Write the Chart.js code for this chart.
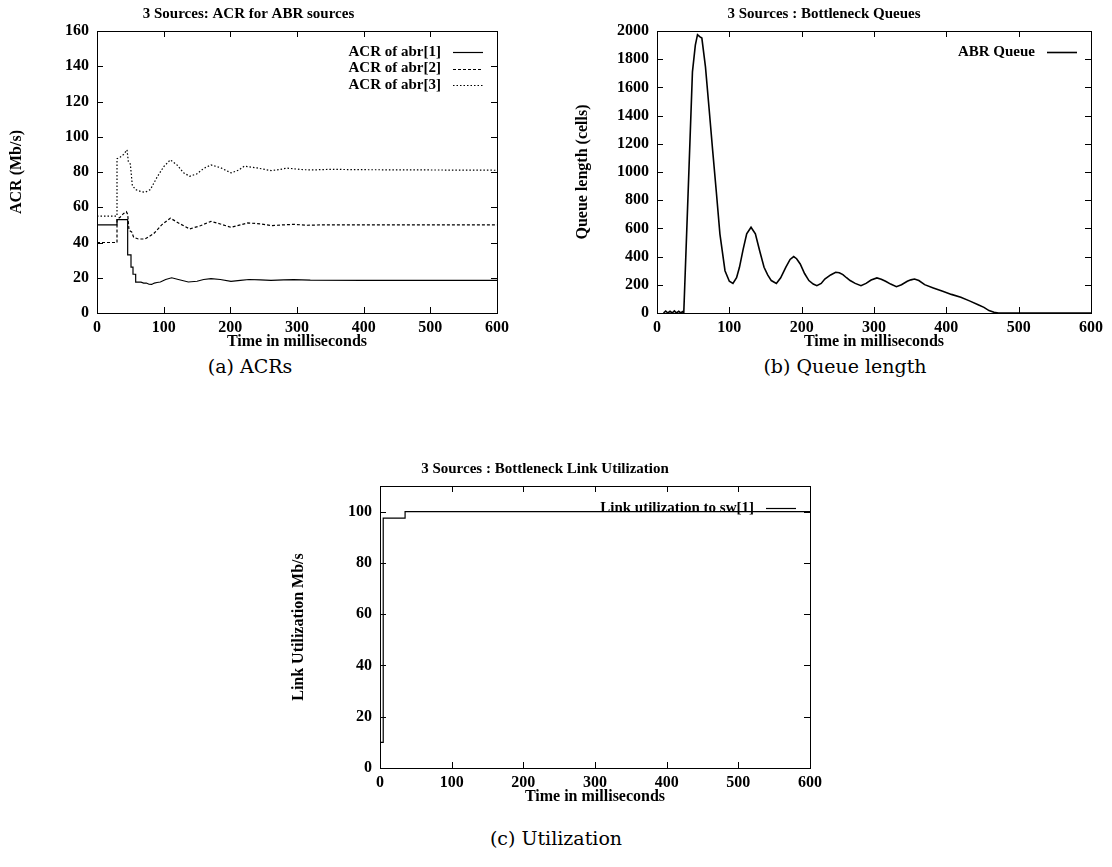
<!DOCTYPE html>
<html><head><meta charset="utf-8">
<script src="https://cdn.jsdelivr.net/npm/chart.js@4.4.1/dist/chart.umd.min.js"></script>
<style>
body{margin:0;background:#fff;width:1112px;height:867px;position:relative;overflow:hidden;}
.box{position:absolute;}
.cap{position:absolute;font-family:"DejaVu Serif",serif;font-size:19px;color:#000;white-space:nowrap;transform:translate(-50%,-50%);}
</style></head><body>
<div class="box" style="left:0px;top:0px;"><canvas id="ca" width="540" height="352"></canvas></div>
<div class="box" style="left:557px;top:0px;"><canvas id="cb" width="555" height="352"></canvas></div>
<div class="box" style="left:280px;top:455px;"><canvas id="cc" width="560" height="352"></canvas></div>
<div class="cap" style="left:250px;top:366px;">(a) ACRs</div>
<div class="cap" style="left:845px;top:366px;">(b) Queue length</div>
<div class="cap" style="left:556px;top:838px;">(c) Utilization</div>
<script>
// ---------- data ----------
const timeTicks = [0, 100, 200, 300, 400, 500, 600];
const acrTicks = [0, 20, 40, 60, 80, 100, 120, 140, 160];
const queueTicks = [0, 200, 400, 600, 800, 1000, 1200, 1400, 1600, 1800, 2000];
const utilTicks = [0, 20, 40, 60, 80, 100];

const acr1Time = [0, 30, 30, 46, 46, 51, 51, 54, 54, 58, 58, 66, 70, 74, 78, 82, 86, 90, 95, 103, 112, 122, 137, 150, 160, 171, 185, 201, 215, 228, 245, 261, 280, 295, 320, 400, 600];
const acr1 = [50, 50, 53, 53, 33, 33, 26, 26, 22, 22, 17.5, 17.5, 17, 17, 16.3, 16.2, 17, 17.3, 17.6, 19, 20, 19, 17.6, 18, 19, 19.5, 19, 18, 18.5, 19, 18.8, 18.5, 18.8, 18.9, 18.6, 18.5, 18.5];

const acr2Time = [0, 30, 30, 35, 40, 44, 46, 48, 52, 55, 62, 72, 85, 97, 110, 125, 139, 155, 171, 185, 201, 215, 226, 245, 261, 280, 295, 315, 340, 600];
const acr2 = [40, 40, 53, 54.5, 56.5, 57.5, 56, 47, 46, 43, 42, 42, 45, 50, 53.8, 50.5, 47.7, 49.5, 52, 50.5, 48.6, 50, 51.1, 50.6, 49.6, 50, 50.3, 49.8, 50, 50];

const acr3Time = [0, 30, 30, 35, 40, 45, 47, 50, 53, 58, 65, 72, 80, 90, 100, 110, 120, 130, 139, 150, 160, 171, 185, 201, 212, 221, 240, 261, 275, 285, 310, 325, 350, 400, 600];
const acr3 = [55, 55, 87.5, 88.5, 90, 92.6, 86, 84.5, 72.3, 70, 69, 68.5, 70, 77, 83, 86.9, 84, 79.5, 77.6, 79, 82, 84, 82.5, 79.5, 81, 83.3, 82.3, 80.8, 81.5, 82.2, 81.3, 81.2, 81.5, 81.3, 81];

const queueTime = [9, 12, 15, 18, 21, 24, 27, 30, 33, 35, 37, 43, 49, 53, 56, 59, 62, 67, 72, 77, 82, 87, 94, 100, 105, 110, 114, 119, 124, 130, 136, 142, 148, 153, 158, 165, 171, 178, 184, 189, 193, 198, 204, 210, 216, 221, 227, 232, 240, 247, 252, 257, 262, 267, 274, 282, 289, 296, 304, 310, 316, 323, 331, 338, 346, 351, 356, 362, 370, 382, 395, 407, 420, 432, 444, 452, 459, 466, 472, 500, 550, 600];
const queueLen = [0, 14, 0, 12, 0, 15, 0, 12, 0, 10, 0, 850, 1710, 1900, 1974, 1960, 1950, 1745, 1450, 1150, 860, 560, 300, 225, 210, 250, 324, 450, 561, 608, 561, 440, 324, 270, 230, 210, 250, 324, 380, 400, 385, 348, 280, 230, 205, 194, 210, 241, 270, 289, 285, 272, 250, 230, 210, 194, 210, 234, 249, 240, 225, 205, 187, 200, 225, 235, 241, 230, 201, 178, 154, 132, 111, 86, 59, 40, 17, 5, 0, 0, 0, 0];

const utilTime = [0, 4.5, 4.5, 35, 35, 600];
const utilRate = [10, 10, 97.5, 97.5, 100, 100];

// ---------- helpers ----------
const FONT = '"Liberation Serif", "Times New Roman", serif';
const zip = (xs, ys) => xs.map((x, i) => ({x: x, y: ys[i]}));

const framePlugin = {
  id: 'frame',
  afterDatasetsDraw(chart) {
    const {ctx, chartArea: a, scales: {x, y}} = chart;
    ctx.save();
    ctx.strokeStyle = '#000';
    ctx.lineWidth = 1;
    ctx.setLineDash([]);
    ctx.beginPath();
    const L = 6;
    x.ticks.forEach(t => {
      const px = Math.round(x.getPixelForValue(t.value)) + 0.5;
      ctx.moveTo(px, a.bottom); ctx.lineTo(px, a.bottom - L);
      ctx.moveTo(px, a.top); ctx.lineTo(px, a.top + L);
    });
    y.ticks.forEach(t => {
      const py = Math.round(y.getPixelForValue(t.value)) + 0.5;
      ctx.moveTo(a.left, py); ctx.lineTo(a.left + L, py);
      ctx.moveTo(a.right, py); ctx.lineTo(a.right - L, py);
    });
    ctx.stroke();
    ctx.strokeRect(Math.round(a.left) + 0.5, Math.round(a.top) + 0.5, Math.round(a.right - a.left), Math.round(a.bottom - a.top));
    ctx.restore();
  },
  afterDraw(chart) {
    const o = chart.options.plugins.frame || {};
    const {ctx, chartArea: a} = chart;
    ctx.save();
    ctx.font = 'bold 15px ' + FONT;
    ctx.fillStyle = '#000';
    ctx.textAlign = 'right';
    ctx.textBaseline = 'middle';
    chart.data.datasets.forEach((ds, i) => {
      const yy = a.top + o.legendTop + i * 16.5;
      const sEnd = a.right - 14, sStart = sEnd - 30;
      ctx.fillText(ds.label, sStart - 12, yy);
      ctx.beginPath();
      ctx.strokeStyle = '#000';
      ctx.lineWidth = ds.borderWidth;
      ctx.setLineDash(ds.borderDash || []);
      ctx.moveTo(sStart, Math.round(yy) + 0.5);
      ctx.lineTo(sEnd, Math.round(yy) + 0.5);
      ctx.stroke();
    });
    ctx.restore();
  }
};

function makeChart(id, cfg) {
  const tickFont = {family: FONT, size: 16, weight: 'bold'};
  const titleFont = {family: FONT, size: 16, weight: 'bold'};
  return new Chart(document.getElementById(id), {
    type: 'line',
    data: {datasets: cfg.datasets},
    options: {
      responsive: false,
      animation: false,
      events: [],
      layout: {padding: {left: 0, right: cfg.padRight, top: 0, bottom: 0}},
      elements: {point: {radius: 0}, line: {tension: 0}},
      plugins: {
        legend: {display: false},
        tooltip: {enabled: false},
        title: {display: true, text: cfg.title, color: '#000',
                font: {family: FONT, size: 15, weight: 'bold'}, padding: {top: 5, bottom: 8}},
        frame: {legendTop: cfg.legendTop}
      },
      scales: {
        x: {
          type: 'linear', min: 0, max: 600,
          afterBuildTicks: s => { s.ticks = timeTicks.map(v => ({value: v})); },
          afterFit: s => { s.height = 39; },
          ticks: {font: tickFont, color: '#000', padding: 5, maxRotation: 0, autoSkip: false, callback: v => String(v)},
          grid: {display: false, drawTicks: false},
          border: {display: false},
          title: {display: true, text: 'Time in milliseconds', color: '#000', font: titleFont, padding: {top: 0, bottom: 1}}
        },
        y: {
          type: 'linear', min: 0, max: cfg.yMax,
          afterBuildTicks: s => { s.ticks = cfg.yTicks.map(v => ({value: v})); },
          afterFit: s => { s.width = cfg.yWidth; },
          ticks: {font: tickFont, color: '#000', padding: 8, autoSkip: false, callback: v => String(v)},
          grid: {display: false, drawTicks: false},
          border: {display: false},
          title: {display: true, text: cfg.yTitle, color: '#000', font: titleFont, padding: {top: cfg.yTitlePad, bottom: 0}}
        }
      }
    },
    plugins: [framePlugin]
  });
}

makeChart('ca', {
  title: '3 Sources: ACR for ABR sources',
  yTitle: 'ACR (Mb/s)', yMax: 160, yTicks: acrTicks, yWidth: 97, yTitlePad: 7.5, padRight: 43, legendTop: 21,
  datasets: [
    {label: 'ACR of abr[1]', data: zip(acr1Time, acr1), borderColor: '#000', borderWidth: 1.2, fill: false},
    {label: 'ACR of abr[2]', data: zip(acr2Time, acr2), borderColor: '#000', borderWidth: 1.2, borderDash: [3, 2], fill: false},
    {label: 'ACR of abr[3]', data: zip(acr3Time, acr3), borderColor: '#000', borderWidth: 1.2, borderDash: [1.5, 2], fill: false}
  ]
});

makeChart('cb', {
  title: '3 Sources : Bottleneck Queues',
  yTitle: 'Queue length (cells)', yMax: 2000, yTicks: queueTicks, yWidth: 100, yTitlePad: 16, padRight: 21, legendTop: 21,
  datasets: [
    {label: 'ABR Queue', data: zip(queueTime, queueLen), borderColor: '#000', borderWidth: 1.6, fill: false}
  ]
});

makeChart('cc', {
  title: '3 Sources : Bottleneck Link Utilization',
  yTitle: 'Link Utilization Mb/s', yMax: 110, yTicks: utilTicks, yWidth: 100, yTitlePad: 9, padRight: 30, legendTop: 22,
  datasets: [
    {label: 'Link utilization to sw[1]', data: zip(utilTime, utilRate), borderColor: '#000', borderWidth: 1.2, fill: false}
  ]
});
</script>
</body></html>
